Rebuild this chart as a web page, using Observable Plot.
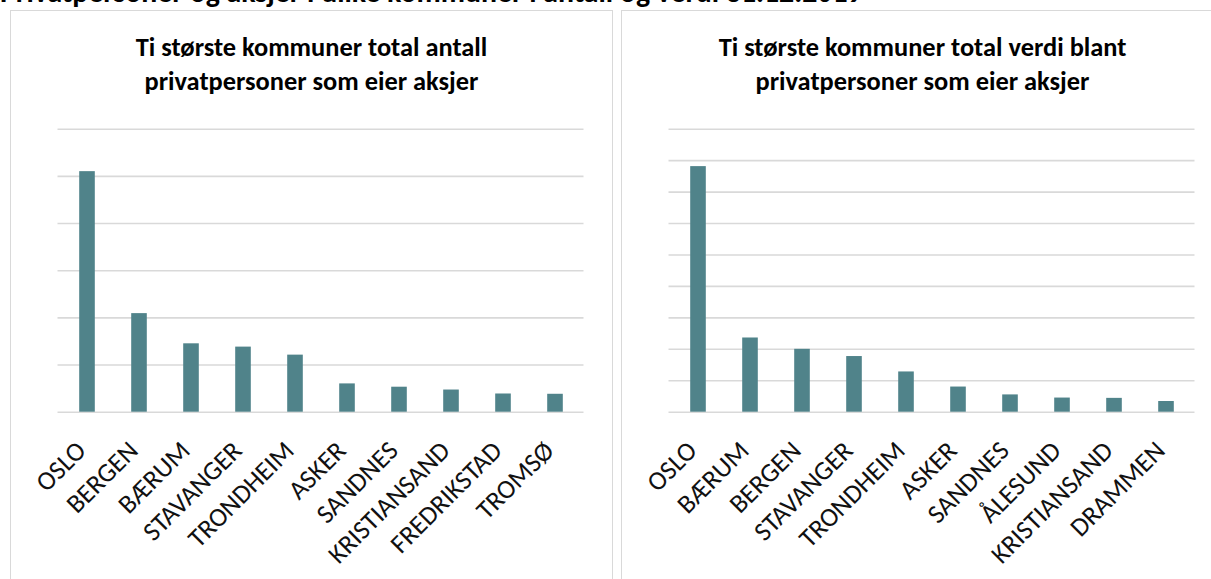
<!DOCTYPE html>
<html>
<head>
<meta charset="utf-8">
<script src="https://cdn.jsdelivr.net/npm/d3@7"></script>
<script src="https://cdn.jsdelivr.net/npm/@observablehq/plot@0.6"></script>
<style>
  html, body { margin: 0; padding: 0; background: #fff; }
  body { width: 1211px; height: 579px; overflow: hidden; position: relative; font-family: Carlito, Lato, "Open Sans", sans-serif; }
  #main-title { position: absolute; left: 0; top: -22px; font-weight: bold; font-size: 29.8px; line-height: 29.8px; white-space: nowrap; color: #000; }
  .panel { position: absolute; top: 10px; width: 601px; height: 600px; border: 1px solid #d9d9d9; background: #fff; }
  .ctitle { position: absolute; left: 0; width: 601px; top: 19px; text-align: center; font-weight: bold; font-size: 26.4px; line-height: 34px; color: #000; }
  .chart { position: absolute; left: 0; top: 89px; }
</style>
</head>
<body>
<div id="main-title">Privatpersoner og aksjer i ulike kommuner i antall og verdi 31.12.2019</div>
<div class="panel" id="p1" style="left:10px"><div class="ctitle">Ti største kommuner total antall<br>privatpersoner som eier aksjer</div><div class="chart" id="c1"></div></div>
<div class="panel" id="p2" style="left:621px"><div class="ctitle">Ti største kommuner total verdi blant<br>privatpersoner som eier aksjer</div><div class="chart" id="c2"></div></div>
<script>
// Left chart: number of private persons owning shares (thousands, estimated)
const antallKommuner = ["OSLO","BERGEN","BÆRUM","STAVANGER","TRONDHEIM","ASKER","SANDNES","KRISTIANSAND","FREDRIKSTAD","TROMSØ"];
const antallVerdier = [255, 104.5, 72.5, 69, 60.5, 30, 26.5, 23.5, 19.3, 19];
const antallTicks = [0, 50, 100, 150, 200, 250, 300];

// Right chart: total value (billion NOK, estimated)
const verdiKommuner = ["OSLO","BÆRUM","BERGEN","STAVANGER","TRONDHEIM","ASKER","SANDNES","ÅLESUND","KRISTIANSAND","DRAMMEN"];
const verdiVerdier = [78.1, 23.6, 20.0, 17.7, 12.8, 8.0, 5.5, 4.5, 4.4, 3.4];
const verdiTicks = [0, 10, 20, 30, 40, 50, 60, 70, 80, 90];

function chart(names, values, ticks) {
  const data = names.map((n, i) => ({name: n, value: values[i]}));
  return Plot.plot({
    width: 601,
    height: 490,
    marginLeft: 46.5,
    marginRight: 28.5,
    marginTop: 28.7,
    marginBottom: 178.3,
    x: {domain: names, padding: 0, axis: null},
    y: {domain: [ticks[0], ticks[ticks.length - 1]], axis: null},
    style: {fontFamily: "Carlito, Lato, sans-serif", background: "transparent", overflow: "visible"},
    marks: [
      Plot.ruleY(ticks, {stroke: "#d9d9d9", strokeWidth: 1.6}),
      Plot.barY(data, {x: "name", y: "value", fill: "#50838a", insetLeft: 18.2, insetRight: 18.2}),
      Plot.text(data, {x: "name", frameAnchor: "bottom", text: "name", rotate: -45, textAnchor: "end", lineAnchor: "middle", dx: -6, dy: 34, fontSize: 26.5, fill: "#111"})
    ]
  });
}
document.getElementById("c1").appendChild(chart(antallKommuner, antallVerdier, antallTicks));
document.getElementById("c2").appendChild(chart(verdiKommuner, verdiVerdier, verdiTicks));
</script>
</body>
</html>
